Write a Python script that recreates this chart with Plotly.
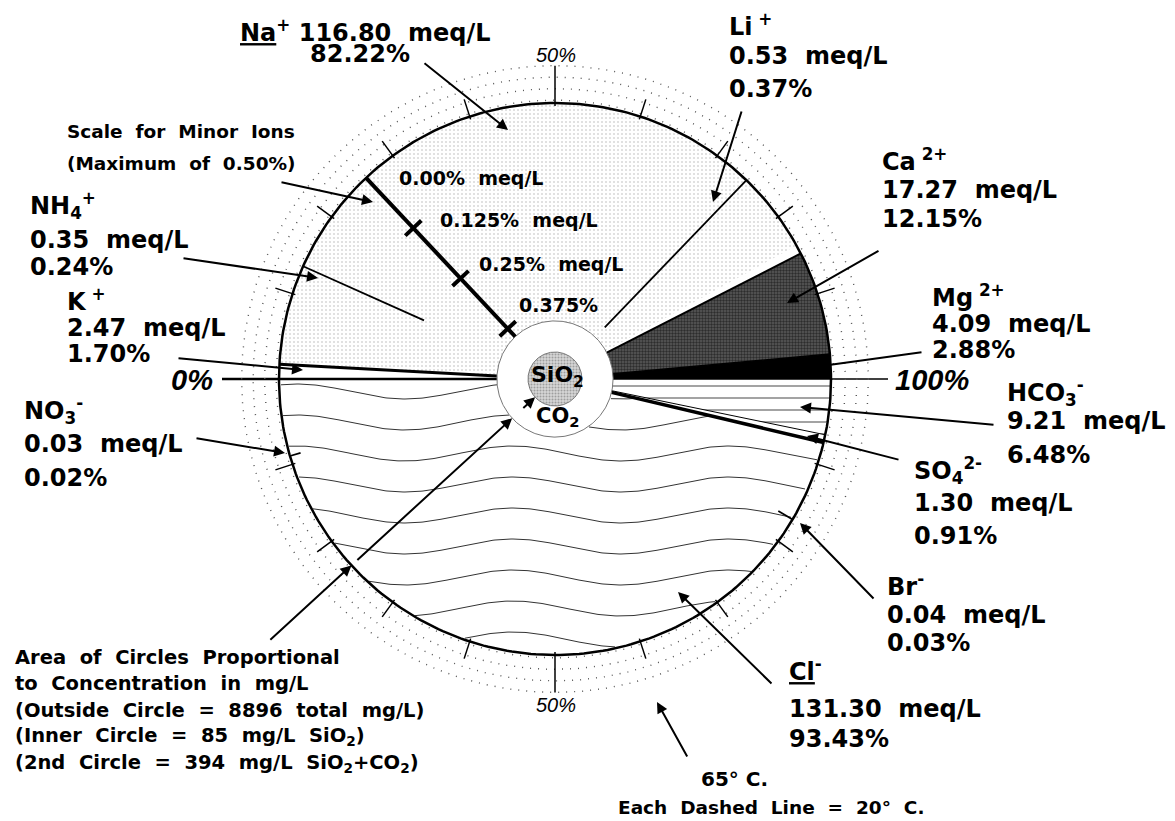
import numpy as np
import plotly.graph_objects as go

# ion data: meq/L and percent of the cation / anion sums
CATIONS = ["K+", "NH4+", "Na+", "Li+", "Ca2+", "Mg2+"]
CATION_MEQ = [2.47, 0.35, 116.80, 0.53, 17.27, 4.09]
CATION_PCT = [1.70, 0.24, 82.22, 0.37, 12.15, 2.88]
ANIONS = ["NO3-", "Cl-", "Br-", "SO4 2-", "HCO3-"]
ANION_MEQ = [0.03, 131.30, 0.04, 1.30, 9.21]
ANION_PCT = [0.02, 93.43, 0.03, 0.91, 6.48]

TOTAL_MG_L = 8896
SIO2_MG_L = 85
SIO2_CO2_MG_L = 394
TEMP_C = 65
RING_STEP_C = 20

MINOR_MAX = 0.50
MINOR_TICKS = [0.125, 0.25, 0.375]
MINOR_TICK_TEXT = ["0.125%  meq/L", "0.25%  meq/L", "0.375%"]
PCT_TICKS = [10, 20, 30, 40, 50, 60, 70, 80, 90]

NAMES = {
    "K+": "K<sup> +</sup>", "NH4+": "NH<sub>4</sub><sup>+</sup>",
    "Na+": "<u>Na</u><sup>+</sup>", "Li+": "Li<sup> +</sup>",
    "Ca2+": "Ca<sup> 2+</sup>", "Mg2+": "Mg<sup> 2+</sup>",
    "NO3-": "NO<sub>3</sub><sup>-</sup>", "Cl-": "<u>Cl</u><sup>-</sup>",
    "Br-": "Br<sup>-</sup>", "SO4 2-": "SO<sub>4</sub><sup>2-</sup>",
    "HCO3-": "HCO<sub>3</sub><sup>-</sup>",
}

# geometry (page pixels); the page body keeps an 8 px margin
OFF = 8
CX, CY, R = 555, 379, 276
R_SIO2 = R * np.sqrt(SIO2_MG_L / TOTAL_MG_L)
R_2ND = R * np.sqrt(SIO2_CO2_MG_L / TOTAL_MG_L)
PX_PER_C = 0.575
FONT = "DejaVu Sans"
SP = "\u00a0\u00a0"

cat = dict(zip(CATIONS, CATION_PCT))
ani = dict(zip(ANIONS, ANION_PCT))


def polar(side, pct, r):
    """side=+1 cations (upper half), -1 anions; pct measured from the left."""
    th = np.radians(1.8 * np.asarray(pct, dtype=float))
    return CX - r * np.cos(th), CY - side * r * np.sin(th)


def wedge(side, a, b):
    t = np.linspace(a, b, int((b - a) * 3) + 3)
    xs, ys = polar(side, t, R)
    return np.r_[CX, xs, CX], np.r_[CY, ys, CY]


def circle(r, n=360, cx=CX, cy=CY):
    t = np.linspace(0, 2 * np.pi, n + 1)
    return cx + r * np.cos(t), cy + r * np.sin(t)


fig = go.Figure()


def add_fill(xs, ys, **kw):
    fig.add_trace(go.Scatter(x=xs, y=ys, mode="lines", fill="toself",
                             line=dict(width=0, color="black"),
                             hoverinfo="skip", showlegend=False, **kw))


def add_line(xs, ys, width=1.5, color="black", dash=None):
    fig.add_trace(go.Scatter(x=list(xs), y=list(ys), mode="lines",
                             line=dict(width=width, color=color, dash=dash),
                             hoverinfo="skip", showlegend=False,
                             connectgaps=False))


def radial(side, pct, r0, r1, width=1.5):
    x0, y0 = polar(side, pct, r0)
    x1, y1 = polar(side, pct, r1)
    add_line([x0, x1], [y0, y1], width=width)


# --- major cation wedges: K, Na from the 0% side; Mg, Ca from the 100% side
k_end = cat["K+"]
na_end = k_end + cat["Na+"]
mg_start = 100 - cat["Mg2+"]
ca_start = mg_start - cat["Ca2+"]

xs, ys = wedge(+1, k_end, na_end)
add_fill(xs, ys, fillcolor="white",
         fillpattern=dict(shape=".", fgcolor="#b4b4b4", bgcolor="white",
                          size=4, solidity=0.22))
xs, ys = wedge(+1, ca_start, mg_start)
add_fill(xs, ys, fillcolor="#444",
         fillpattern=dict(shape=".", fgcolor="black", bgcolor="#5a5a5a",
                          size=3, solidity=0.5))
xs, ys = wedge(+1, mg_start, 100)
add_fill(xs, ys, fillcolor="black")

# --- anion wedges: Cl from 0%, HCO3 and SO4 from 100%
hco3_start = 100 - ani["HCO3-"]
so4_start = hco3_start - ani["SO4 2-"]
cl_end = min(ani["Cl-"], so4_start)

xs, ys = wedge(-1, hco3_start, 100)
add_fill(xs, ys, fillcolor="white",
         fillpattern=dict(shape="-", fgcolor="black", bgcolor="white",
                          size=12, solidity=0.12))

# wavy fill lines of the Cl wedge
wx = np.arange(CX - R, CX + R + 1, 2.0)
for k in range(9):
    wy = CY + 12.5 + 31 * k - 7.5 * np.cos(2 * np.pi * (wx - (CX - 258)) / 216)
    rr = np.hypot(wx - CX, wy - CY)
    ang = np.degrees(np.arctan2(wy - CY, -(wx - CX))) / 1.8
    keep = (rr < R - 1) & (rr > R_2ND) & (wy > CY) & (ang < cl_end)
    add_line(wx, [y if ok else None for y, ok in zip(wy, keep)],
             width=1, color="#333")

# wedge boundaries
radial(+1, k_end, R_2ND, R, width=3)
radial(+1, ca_start, R_2ND, R, width=2)
radial(+1, mg_start, R_2ND, R, width=1.5)
radial(-1, so4_start, R_2ND, R, width=3.5)
radial(-1, hco3_start, R_2ND, R, width=1)
radial(+1, 0, R_2ND, R + 57, width=2.5)
radial(+1, 100, R_2ND, R + 57, width=1.5)

# outer circle and temperature rings
xs, ys = circle(R)
add_line(xs, ys, width=2.5)
t = TEMP_C
while t > 0:
    xs, ys = circle(R + t * PX_PER_C, n=720)
    add_line(xs, ys, width=1.4, color="#555", dash="1px,7px")
    t -= RING_STEP_C

# percent ticks on both halves
for side in (+1, -1):
    for p in PCT_TICKS:
        radial(side, p, R - 3, R + (TEMP_C * PX_PER_C if p == 50 else 18), width=1.5)

# minor ions as radial lines on the minor-ion scale
MINOR_AT = {"NH4+": (+1, 13.4), "Li+": (+1, 74.4), "NO3-": (-1, 9.0), "Br-": (-1, 83.0)}
for ion, (side, p) in MINOR_AT.items():
    val = cat.get(ion, ani.get(ion))
    radial(side, p, R * (1 - val / MINOR_MAX), R, width=1.8)

# central circles
xs, ys = circle(R_2ND)
fig.add_trace(go.Scatter(x=xs, y=ys, mode="lines", fill="toself", fillcolor="white",
                         line=dict(width=1, color="#777"), hoverinfo="skip",
                         showlegend=False))
xs, ys = circle(R_SIO2)
fig.add_trace(go.Scatter(x=xs, y=ys, mode="lines", fill="toself", fillcolor="#bbb",
                         fillpattern=dict(shape=".", fgcolor="#666", bgcolor="#d6d6d6",
                                          size=3, solidity=0.35),
                         line=dict(width=1, color="#777"), hoverinfo="skip",
                         showlegend=False))

# minor-ion scale bar
SCALE_AT = 26.0
radial(+1, SCALE_AT, R_2ND, R, width=4)
th = np.radians(1.8 * SCALE_AT)
ux, uy = -np.cos(th), -np.sin(th)
for v in MINOR_TICKS:
    px, py = polar(+1, SCALE_AT, R * (1 - v / MINOR_MAX))
    add_line([px - 11 * uy, px + 11 * uy], [py + 11 * ux, py - 11 * ux], width=4)


# ---- text ----
def label(x, y, text, size=24, anchor="left", family=FONT, bold=True):
    fig.add_annotation(x=x, y=y, text=f"<b>{text}</b>" if bold else text,
                       showarrow=False, xanchor=anchor, yanchor="middle",
                       font=dict(family=family, size=size, color="black"))


def arrow(head, tail, width=2):
    fig.add_annotation(x=head[0], y=head[1], ax=tail[0], ay=tail[1],
                       xref="x", yref="y", axref="x", ayref="y", text="",
                       showarrow=True, arrowhead=2, arrowsize=1.1,
                       arrowwidth=width, arrowcolor="black")


meq = dict(zip(CATIONS + ANIONS, CATION_MEQ + ANION_MEQ))
pct = dict(zip(CATIONS + ANIONS, CATION_PCT + ANION_PCT))

LABEL_AT = {  # x, y name, y meq, y pct
    "Li+": (727, 25, 56, 89), "Ca2+": (880, 160, 190, 219),
    "Mg2+": (930, 296, 324, 350), "NH4+": (28, 205, 240, 267),
    "K+": (65, 300, 328, 354), "NO3-": (22, 410, 444, 478),
    "HCO3-": (1005, 392, 421, 455), "SO4 2-": (912, 470, 503, 536),
    "Br-": (885, 585, 615, 643), "Cl-": (787, 670, 709, 739),
}
for ion, (x, yn, ym, yp) in LABEL_AT.items():
    label(x, yn, NAMES[ion])
    label(x, ym, f"{meq[ion]:.2f}{SP}meq/L")
    label(x, yp, f"{pct[ion]:.2f}%")
label(238, 31, f"{NAMES['Na+']} {meq['Na+']:.2f}{SP}meq/L")
label(308, 54, f"{pct['Na+']:.2f}%")

label(215, 380, "<i>0%</i>", size=29, anchor="right", family="Liberation Sans")
label(893, 380, "<i>100%</i>", size=29, family="Liberation Sans")
label(556, 55, "<i>50%</i>", size=20, anchor="center", family="Liberation Sans", bold=False)
label(556, 705, "<i>50%</i>", size=20, anchor="center", family="Liberation Sans", bold=False)

label(65, 131, "Scale{0}for{0}Minor{0}Ions".format("\u00a0 "), size=18.5)
label(65, 163, "(Maximum{0}of{0}0.50%)".format("\u00a0 "), size=18.5)
label(397, 178, "0.00%  meq/L".replace("  ", SP), size=19)
for v, txt, (dx, dy) in zip(MINOR_TICKS, MINOR_TICK_TEXT, [(25, -8), (16, -14), (9, -24)]):
    px, py = polar(+1, SCALE_AT, R * (1 - v / MINOR_MAX))
    label(px + dx, py + dy, txt.replace("  ", SP), size=19)

label(557, 376, "SiO<sub>2</sub>", size=22, anchor="center")
label(558, 417, "CO<sub>2</sub>", size=21, anchor="center")

AREA_TEXT = [
    "Area of Circles Proportional",
    "to Concentration in mg/L",
    f"(Outside Circle = {TOTAL_MG_L} total mg/L)",
    f"(Inner Circle = {SIO2_MG_L} mg/L SiO<sub>2</sub>)",
    f"(2nd Circle = {SIO2_CO2_MG_L} mg/L SiO<sub>2</sub>+CO<sub>2</sub>)",
]
for i, line in enumerate(AREA_TEXT):
    label(13, 657 + 26.5 * i, line.replace(" ", "\u00a0 "), size=19.5)

label(734, 779, f"{TEMP_C}° C.", size=20, anchor="center")
label(771, 807, f"Each Dashed Line = {RING_STEP_C}° C.".replace(" ", "\u00a0 "),
      size=18.5, anchor="center")

# ---- arrows ----
arrow((508, 130), (423, 62))            # Na
arrow((373, 202), (280, 182))           # scale
arrow((318, 278), (182, 258))           # NH4
arrow((303, 370), (177, 358))           # K
arrow((285, 453), (195, 438))           # NO3
arrow((713, 202), (742, 110))           # Li
arrow((787, 303), (880, 250))           # Ca
arrow((815, 367), (923, 352))           # Mg
arrow((800, 407), (995, 425))           # HCO3
arrow((807, 436), (900, 460))           # SO4
arrow((800, 523), (875, 600))           # Br
arrow((678, 592), (773, 685))           # Cl
arrow((657, 702), (688, 758))           # temperature
AREA_AT = 23.6
for r_head, r_tail in [(R, 388), (R_2ND, R - 6), (R_SIO2, 45)]:
    hx, hy = polar(-1, AREA_AT, r_head)
    tx, ty = polar(-1, AREA_AT, r_tail)
    arrow((hx, hy), (tx, ty))

fig.update_layout(
    width=1175 - OFF, height=821 - OFF, margin=dict(l=0, r=0, t=0, b=0),
    paper_bgcolor="white", plot_bgcolor="white", showlegend=False,
    xaxis=dict(range=[OFF, 1175], visible=False, fixedrange=True),
    yaxis=dict(range=[821, OFF], visible=False, fixedrange=True),
)
fig.write_html("out.html")
